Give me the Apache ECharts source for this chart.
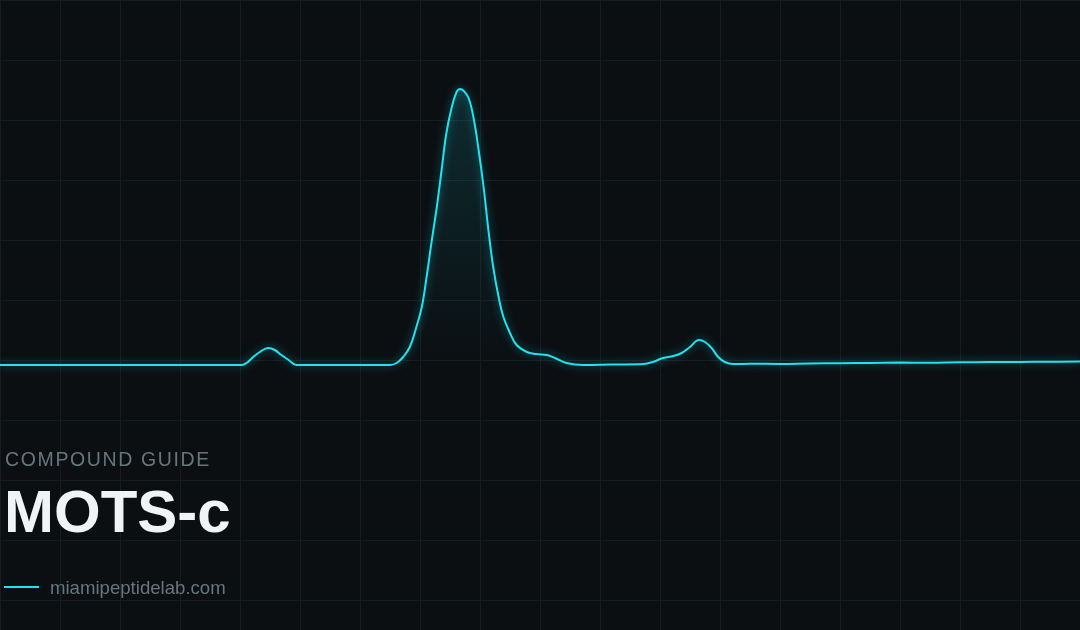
<!DOCTYPE html>
<html style="height: 100%">
<head>
    <meta charset="utf-8">
</head>
<body style="height: 100%; margin: 0; background: #0b0f12">
<div id="chromatogram_container" style="height: 630px; width: 1080px"></div>
<script src="https://cdn.jsdelivr.net/npm/echarts@6/dist/echarts.min.js"></script>
<script type="text/javascript">
    // retention time (min) and detector signal (mAU)
    var retentionTime = [0, 2.0, 4.03, 4.11, 4.22, 4.33, 4.47, 4.58, 4.69, 4.81, 4.94, 5.7,
        6.5, 6.61, 6.72, 6.83, 6.94, 7.03, 7.11, 7.19, 7.28, 7.36, 7.44, 7.53, 7.61, 7.67, 7.73,
        7.81, 7.89, 7.97, 8.06, 8.14, 8.22, 8.31, 8.39, 8.5, 8.61, 8.78, 8.94, 9.11, 9.25, 9.44,
        9.72, 10.2, 10.72, 10.88, 11.05, 11.22, 11.36, 11.5, 11.65, 11.75, 11.86, 11.97, 12.08,
        12.22, 12.5, 13.0, 13.5, 14.0, 14.5, 15.0, 15.5, 16.0, 16.5, 17.0, 17.5, 18.0];
    var signal = [0, 0, 0, 2, 8, 13, 17, 15, 10, 5, 0, 0,
        0, 2, 8, 18, 38, 58, 88, 122, 158, 195, 232, 258, 273, 276, 274,
        267, 248, 218, 178, 135, 98, 68, 48, 32, 20, 13, 11, 10, 7, 2,
        0, 0.5, 1, 3, 7, 9, 12, 18, 25, 23, 17, 8, 3,
        1, 1.2, 1.1, 1.6, 1.8, 2.0, 2.4, 2.3, 2.8, 2.9, 3.0, 3.3, 3.4];

    var kicker = 'COMPOUND GUIDE';
    var compound = 'MOTS-c';
    var site = 'miamipeptidelab.com';

    var accent = '#1ee3f0';
    var gridColor = '#151d21';
    var mutedText = '#67767c';

    var points = retentionTime.map(function (t, i) { return [t, signal[i]]; });

    // no letter-spacing in canvas text here, so pad with hair spaces
    function spaced(str) {
        return str.split('').join('\u200A');
    }

    var chromatogram_chart = echarts.init(document.getElementById('chromatogram_container'));
    var chromatogram_option = {
        backgroundColor: '#0b0f12',
        animation: false,
        grid: { left: 0, right: 0, top: 0, bottom: 0 },
        xAxis: {
            type: 'value',
            min: 0,
            max: 18,
            interval: 1,
            axisLine: { show: false },
            axisTick: { show: false },
            axisLabel: { show: false },
            splitLine: { show: true, lineStyle: { color: gridColor, width: 1 } }
        },
        yAxis: [
            {
                // signal axis
                type: 'value',
                min: -265,
                max: 365,
                axisLine: { show: false },
                axisTick: { show: false },
                axisLabel: { show: false },
                splitLine: { show: false }
            },
            {
                // background grid rows
                type: 'value',
                min: 0,
                max: 10.5,
                interval: 1,
                inverse: true,
                axisLine: { show: false },
                axisTick: { show: false },
                axisLabel: { show: false },
                splitLine: { show: true, lineStyle: { color: gridColor, width: 1 } }
            }
        ],
        series: [{
            name: site,
            type: 'line',
            yAxisIndex: 0,
            data: points,
            smooth: 0.4,
            showSymbol: false,
            lineStyle: {
                color: accent,
                width: 2,
                shadowBlur: 8,
                shadowColor: 'rgba(30,227,240,0.55)'
            },
            areaStyle: {
                color: new echarts.graphic.LinearGradient(0, 0, 0, 1, [
                    { offset: 0, color: 'rgba(30,200,215,0.22)' },
                    { offset: 1, color: 'rgba(30,200,215,0)' }
                ])
            }
        }],
        graphic: [
            {
                type: 'text',
                z: 100,
                left: 5,
                top: 451,
                style: {
                    text: spaced(kicker),
                    fill: mutedText,
                    font: '19.5px "Liberation Sans", Arial, sans-serif'
                }
            },
            {
                type: 'text',
                z: 100,
                left: 4,
                top: 485,
                style: {
                    text: compound,
                    fill: '#f0f4f7',
                    font: 'bold 60px "Liberation Sans", Arial, sans-serif'
                }
            },
            {
                type: 'rect',
                z: 100,
                left: 4,
                top: 586,
                shape: { width: 35, height: 2 },
                style: { fill: accent }
            },
            {
                type: 'text',
                z: 100,
                left: 50,
                top: 579,
                style: {
                    text: site,
                    fill: mutedText,
                    font: '18.6px "Liberation Sans", Arial, sans-serif'
                }
            }
        ]
    };

    chromatogram_chart.setOption(chromatogram_option, true);
</script>
</body>
</html>
